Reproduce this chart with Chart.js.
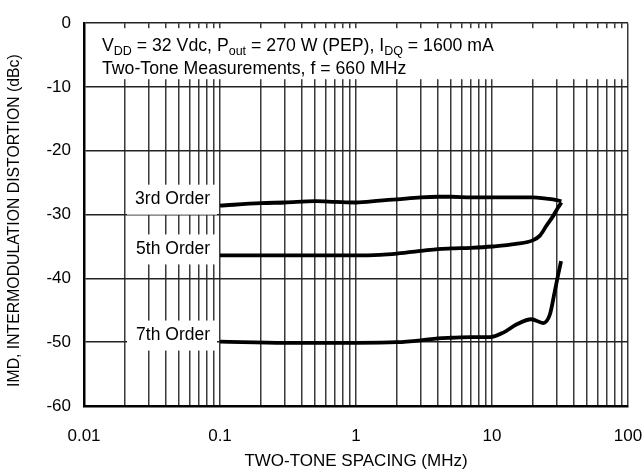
<!DOCTYPE html>
<html>
<head>
<meta charset="utf-8">
<script src="https://cdn.jsdelivr.net/npm/chart.js@4.4.0/dist/chart.umd.min.js"></script>
<style>
html, body { margin: 0; padding: 0; background: #fff; }
#wrap { width: 643px; height: 475px; position: relative; }
</style>
</head>
<body>
<div id="wrap"><canvas id="myChart"></canvas></div>
<script>
// two-tone spacing (MHz) and IMD (dBc)
var freq3 = [0.1, 0.2, 0.3, 0.5, 0.7, 1, 1.5, 2, 3, 4, 5, 7, 10, 15, 20, 25, 28, 32.4];
var imd3 = [-28.6, -28.2, -28.1, -27.9, -28.0, -28.1, -27.8, -27.6, -27.3, -27.2, -27.2, -27.3, -27.3, -27.3, -27.3, -27.5, -27.6, -27.9];

var freq5 = [0.1, 0.3, 1, 1.5, 2, 3, 4, 5, 7, 10, 15, 20.1, 22.5, 25.2, 28.2, 30.6, 32.4];
var imd5 = [-36.4, -36.4, -36.4, -36.3, -36.1, -35.7, -35.4, -35.3, -35.2, -35.0, -34.6, -34.0, -33.3, -31.7, -30.2, -28.9, -28.1];

var freq7 = [0.1, 0.3, 1, 2, 3, 4, 5, 7, 9.7, 12.1, 15.2, 19.5, 23.8, 26.6, 28.9, 30.6, 32.2];
var imd7 = [-49.9, -50.1, -50.1, -50.0, -49.7, -49.4, -49.3, -49.2, -49.2, -48.5, -47.2, -46.4, -47.0, -45.7, -42.1, -39.5, -37.3];

var seriesLabels = ['3rd Order', '5th Order', '7th Order'];
var xDecades = [0.01, 0.1, 1, 10, 100];
var xTickLabels = ['0.01', '0.1', '1', '10', '100'];
var yTitle = 'IMD, INTERMODULATION DISTORTION (dBc)';

// 1..9 gridlines in each decade
var xGrid = [];
for (var d = 0; d < xDecades.length - 1; d++) {
    for (var m = 1; m < 10; m++) {
        xGrid.push(+(xDecades[d] * m).toPrecision(3));
    }
}
xGrid.push(xDecades[xDecades.length - 1]);

function pts(xs, ys) {
    return xs.map(function (x, i) { return { x: x, y: ys[i] }; });
}

var FONT = "'Liberation Sans', Arial, sans-serif";

function drawRuns(ctx, runs, x, y) {
    runs.forEach(function (r) {
        ctx.font = (r.sub ? '12.5px ' : '17.7px ') + FONT;
        ctx.fillText(r.t, x, r.sub ? y + 4 : y);
        x += ctx.measureText(r.t).width;
    });
}

var notes = {
    id: 'notes',
    afterDatasetsDraw: function (chart) {
        var ctx = chart.ctx, a = chart.chartArea;
        var xs = chart.scales.x, ys = chart.scales.y;
        ctx.save();
        // header box with test conditions
        ctx.fillStyle = '#fff';
        ctx.fillRect(a.left + 2, a.top + 5, a.right - a.left - 3.5, 51);
        ctx.fillStyle = '#000';
        ctx.textBaseline = 'alphabetic';
        ctx.textAlign = 'left';
        drawRuns(ctx, [
            { t: 'V' }, { t: 'DD', sub: true },
            { t: ' = 32 Vdc, P' }, { t: 'out', sub: true },
            { t: ' = 270 W (PEP), I' }, { t: 'DQ', sub: true },
            { t: ' = 1600 mA' }
        ], a.left + 18, a.top + 28);
        drawRuns(ctx, [{ t: 'Two-Tone Measurements, f = 660 MHz' }], a.left + 18, a.top + 51);

        // curve labels
        var xr = xs.getPixelForValue(0.1);
        chart.data.datasets.forEach(function (ds) {
            var cy = ys.getPixelForValue(ds.data[0].y) - 6;
            ctx.fillStyle = '#fff';
            ctx.fillRect(xr - 93, cy - 15, 90, 30);
            ctx.fillStyle = '#000';
            ctx.font = '17.5px ' + FONT;
            ctx.textAlign = 'right';
            ctx.textBaseline = 'middle';
            ctx.fillText(ds.label, xr - 10, cy);
        });

        // y axis title
        ctx.translate(15, (a.top + a.bottom) / 2 + 6);
        ctx.rotate(-Math.PI / 2);
        ctx.font = '15.8px ' + FONT;
        ctx.textAlign = 'center';
        ctx.textBaseline = 'middle';
        ctx.fillText(yTitle, 0, 0);
        ctx.restore();
    }
};

var ctx = document.getElementById('myChart').getContext('2d');
var chart = new Chart(ctx, {
    type: 'line',
    data: {
        datasets: [
            { label: seriesLabels[0], data: pts(freq3, imd3) },
            { label: seriesLabels[1], data: pts(freq5, imd5) },
            { label: seriesLabels[2], data: pts(freq7, imd7) }
        ].map(function (ds) {
            ds.borderColor = '#000';
            ds.borderWidth = 3.8;
            ds.pointRadius = 0;
            ds.fill = false;
            ds.cubicInterpolationMode = 'monotone';
            return ds;
        })
    },
    options: {
        responsive: true,
        maintainAspectRatio: false,
        animation: false,
        devicePixelRatio: 1,
        layout: { padding: { top: 20, right: 15, left: 0, bottom: 0 } },
        plugins: { legend: { display: false }, tooltip: { enabled: false } },
        scales: {
            x: {
                type: 'logarithmic',
                min: 0.01,
                max: 100,
                afterBuildTicks: function (scale) {
                    scale.ticks = xGrid.map(function (v) { return { value: v }; });
                },
                afterFit: function (scale) {
                    scale.height = 69;
                    scale.paddingLeft = 0;
                    scale.paddingRight = 0;
                },
                ticks: {
                    autoSkip: false,
                    maxRotation: 0,
                    padding: 20,
                    color: '#000',
                    font: { family: FONT, size: 17 },
                    callback: function (value) {
                        var i = xDecades.indexOf(value);
                        return i >= 0 ? xTickLabels[i] : '';
                    }
                },
                grid: { color: '#3a3a3a', lineWidth: 1.5, drawTicks: false },
                border: { color: '#000', width: 2.5 },
                title: {
                    display: true,
                    text: 'TWO-TONE SPACING (MHz)',
                    color: '#000',
                    font: { family: FONT, size: 17 },
                    padding: { top: 0, bottom: 3 }
                }
            },
            y: {
                min: -60,
                max: 0,
                afterFit: function (scale) { scale.width = 84; },
                ticks: {
                    stepSize: 10,
                    padding: 13,
                    color: '#000',
                    font: { family: FONT, size: 17 }
                },
                grid: { color: '#222', lineWidth: 1.5, drawTicks: false },
                border: { color: '#000', width: 2.5 }
            }
        }
    },
    plugins: [notes]
});
</script>
</body>
</html>
